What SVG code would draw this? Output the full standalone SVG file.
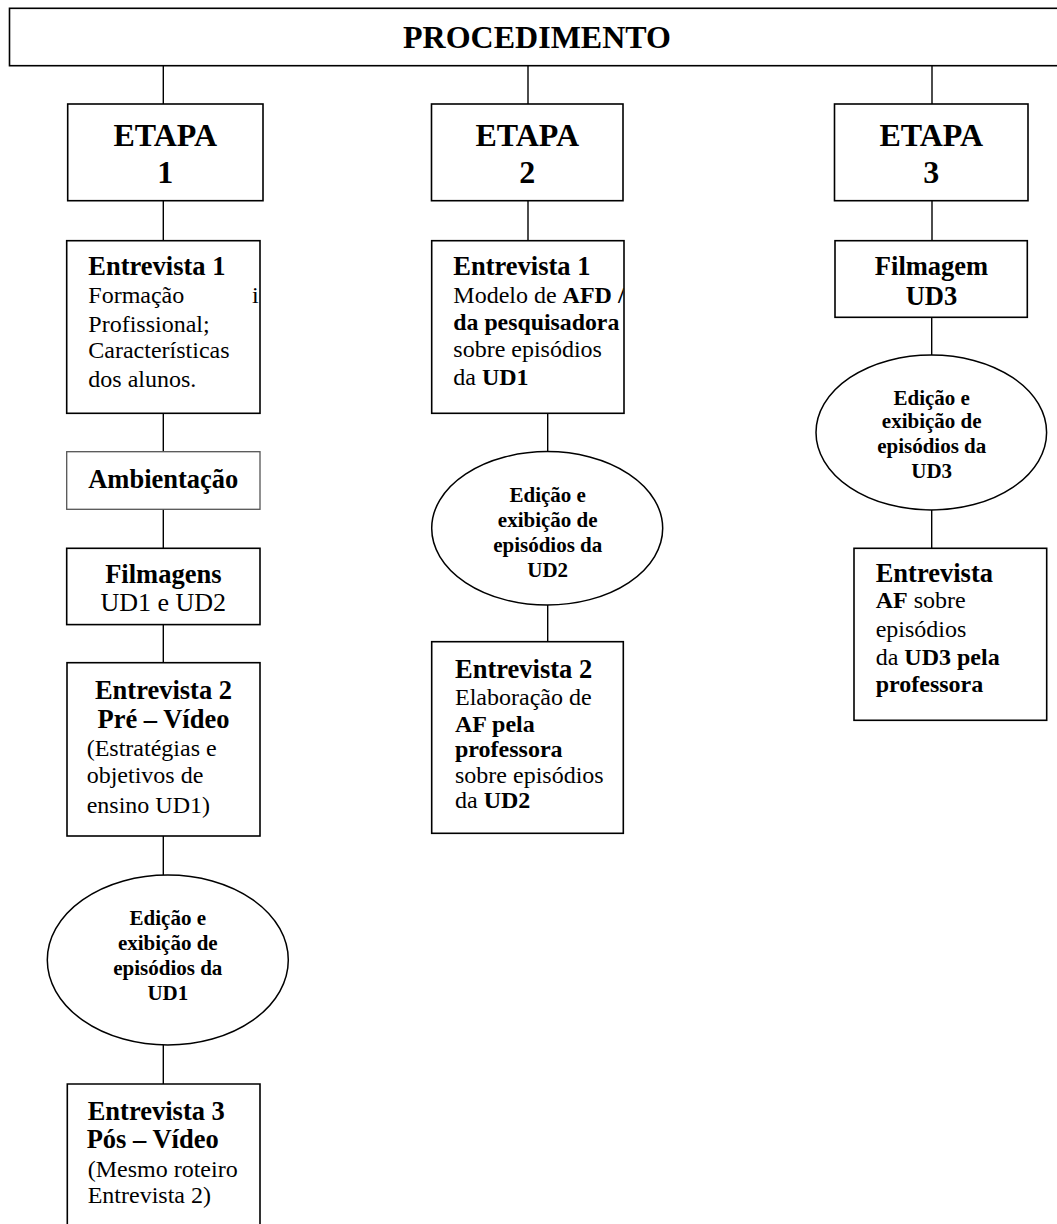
<svg xmlns="http://www.w3.org/2000/svg" width="1057" height="1224" viewBox="0 0 1057 1224">
<style>
.box{fill:#fff;stroke:#000;stroke-width:1.6}
.amb{fill:#fff;stroke:#555;stroke-width:1.3}
.ell{fill:#fff;stroke:#000;stroke-width:1.5}
.conn line{stroke:#000;stroke-width:1.4}
text{font-family:"Liberation Serif","Times New Roman",serif;fill:#000}
.h32{font-size:32px;font-weight:bold}
.hb{font-size:26.5px;font-weight:bold}
.bd{font-size:24px}
.eb{font-size:21px;font-weight:bold}
.c{text-anchor:middle}
.b{font-weight:bold}
</style>
<defs>
<clipPath id="clipE1a"><rect x="67" y="241" width="192.5" height="172"/></clipPath>
<clipPath id="clipE1b"><rect x="432" y="241" width="191.5" height="172"/></clipPath>
</defs>
<rect width="1057" height="1224" fill="#fff"/>
<g class="conn" id="connectors">
<line x1="163.3" y1="66" x2="163.3" y2="104"/>
<line x1="528" y1="66" x2="528" y2="104"/>
<line x1="932" y1="66" x2="932" y2="104"/>
<line x1="163.3" y1="201" x2="163.3" y2="241"/>
<line x1="528" y1="201" x2="528" y2="241"/>
<line x1="932" y1="201" x2="932" y2="241"/>
<line x1="163.3" y1="413" x2="163.3" y2="452"/>
<line x1="163.3" y1="509" x2="163.3" y2="548.3"/>
<line x1="163.3" y1="624.6" x2="163.3" y2="663"/>
<line x1="163.3" y1="836" x2="163.3" y2="875"/>
<line x1="163.3" y1="1045" x2="163.3" y2="1084"/>
<line x1="547.7" y1="413" x2="547.7" y2="452"/>
<line x1="547.7" y1="605" x2="547.7" y2="642"/>
<line x1="931.7" y1="317" x2="931.7" y2="355"/>
<line x1="931.7" y1="510" x2="931.7" y2="548.3"/>
</g>
<g id="procedimento">
<rect class="box" x="9.5" y="8.3" width="1060" height="57.4"/>
<text class="h32 c" x="537" y="48.3">PROCEDIMENTO</text>
</g>
<g id="etapa1">
<rect class="box" x="67.7" y="104" width="195.3" height="96.7"/>
<text class="h32 c" x="165.3" y="145.7">ETAPA</text>
<text class="h32 c" x="165.3" y="183">1</text>
</g>
<g id="etapa2">
<rect class="box" x="431.5" y="104" width="191.5" height="96.7"/>
<text class="h32 c" x="527.3" y="145.7">ETAPA</text>
<text class="h32 c" x="527.3" y="183">2</text>
</g>
<g id="etapa3">
<rect class="box" x="834.5" y="104" width="193.5" height="96.7"/>
<text class="h32 c" x="931.3" y="145.7">ETAPA</text>
<text class="h32 c" x="931.3" y="183">3</text>
</g>
<g id="c1-entrevista1">
<rect class="box" x="66.7" y="240.7" width="193.3" height="172.6"/>
<g clip-path="url(#clipE1a)">
<text class="hb" x="88.3" y="275">Entrevista 1</text>
<text class="bd" x="88.3" y="303.3">Formação</text>
<text class="bd" x="252" y="303.3">i</text>
<text class="bd" x="88.3" y="331.7">Profissional;</text>
<text class="bd" x="88.3" y="358.3">Características</text>
<text class="bd" x="88.3" y="386.7">dos alunos.</text>
</g>
</g>
<g id="c1-ambientacao">
<rect class="amb" x="66.7" y="451.7" width="193.3" height="57.6"/>
<text class="hb c" x="163.3" y="488.3">Ambientação</text>
</g>
<g id="c1-filmagens">
<rect class="box" x="66.7" y="548.3" width="193.3" height="76.3"/>
<text class="hb c" x="163.3" y="582.5">Filmagens</text>
<text class="c" x="163.3" y="611" font-size="26">UD1 e UD2</text>
</g>
<g id="c1-entrevista2">
<rect class="box" x="67" y="662.7" width="193" height="173.3"/>
<text class="hb c" x="163.5" y="699.3">Entrevista 2</text>
<text class="hb c" x="163.5" y="728.3">Pré – Vídeo</text>
<text class="bd" x="86.7" y="756">(Estratégias e</text>
<text class="bd" x="86.7" y="783.3">objetivos de</text>
<text class="bd" x="86.7" y="812.7">ensino UD1)</text>
</g>
<g id="c1-edicao-ud1">
<ellipse class="ell" cx="167.8" cy="960" rx="120.5" ry="85"/>
<text class="eb c" x="167.8" y="925">Edição e</text>
<text class="eb c" x="167.8" y="950">exibição de</text>
<text class="eb c" x="167.8" y="975">episódios da</text>
<text class="eb c" x="167.8" y="1000">UD1</text>
</g>
<g id="c1-entrevista3">
<path class="box" d="M67.3 1230 V1084 H260 V1230"/>
<text class="hb" x="87.7" y="1120">Entrevista 3</text>
<text class="hb" x="86.7" y="1148.3">Pós – Vídeo</text>
<text class="bd" x="87.7" y="1176.7">(Mesmo roteiro</text>
<text class="bd" x="87.7" y="1203.3">Entrevista 2)</text>
</g>
<g id="c2-entrevista1">
<rect class="box" x="431.7" y="240.7" width="192.3" height="172.6"/>
<g clip-path="url(#clipE1b)">
<text class="hb" x="453.3" y="275">Entrevista 1</text>
<text class="bd" x="453.3" y="303.3">Modelo de <tspan class="b">AFD /</tspan></text>
<text class="bd b" x="453.3" y="330" textLength="166" lengthAdjust="spacingAndGlyphs">da pesquisadora</text>
<text class="bd" x="453.3" y="356.7">sobre episódios</text>
<text class="bd" x="453.3" y="385">da <tspan class="b">UD1</tspan></text>
</g>
</g>
<g id="c2-edicao-ud2">
<ellipse class="ell" cx="547.2" cy="528.3" rx="115.5" ry="76.7"/>
<text class="eb c" x="547.7" y="501.7">Edição e</text>
<text class="eb c" x="547.7" y="526.7">exibição de</text>
<text class="eb c" x="547.7" y="551.7">episódios da</text>
<text class="eb c" x="547.7" y="576.7">UD2</text>
</g>
<g id="c2-entrevista2">
<rect class="box" x="431.7" y="641.7" width="191.6" height="191.6"/>
<text class="hb" x="455" y="678.3">Entrevista 2</text>
<text class="bd" x="455" y="705">Elaboração de</text>
<text class="bd b" x="455" y="731.7">AF pela</text>
<text class="bd b" x="455" y="756.7">professora</text>
<text class="bd" x="455" y="783.3">sobre episódios</text>
<text class="bd" x="455" y="808.3">da <tspan class="b">UD2</tspan></text>
</g>
<g id="c3-filmagem">
<rect class="box" x="835" y="240.7" width="192.3" height="76.6"/>
<text class="hb c" x="931.5" y="275">Filmagem</text>
<text class="hb c" x="931.5" y="305">UD3</text>
</g>
<g id="c3-edicao-ud3">
<ellipse class="ell" cx="931.3" cy="432.5" rx="115.3" ry="77.5"/>
<text class="eb c" x="931.7" y="405">Edição e</text>
<text class="eb c" x="931.7" y="428.3">exibição de</text>
<text class="eb c" x="931.7" y="453.3">episódios da</text>
<text class="eb c" x="931.7" y="478.3">UD3</text>
</g>
<g id="c3-entrevista">
<rect class="box" x="854" y="548.3" width="192.7" height="172"/>
<text class="hb" x="875.7" y="581.7">Entrevista</text>
<text class="bd" x="875.7" y="608.3"><tspan class="b">AF</tspan> sobre</text>
<text class="bd" x="875.7" y="636.7">episódios</text>
<text class="bd" x="875.7" y="665">da <tspan class="b">UD3 pela</tspan></text>
<text class="bd b" x="875.7" y="691.7">professora</text>
</g>
</svg>
